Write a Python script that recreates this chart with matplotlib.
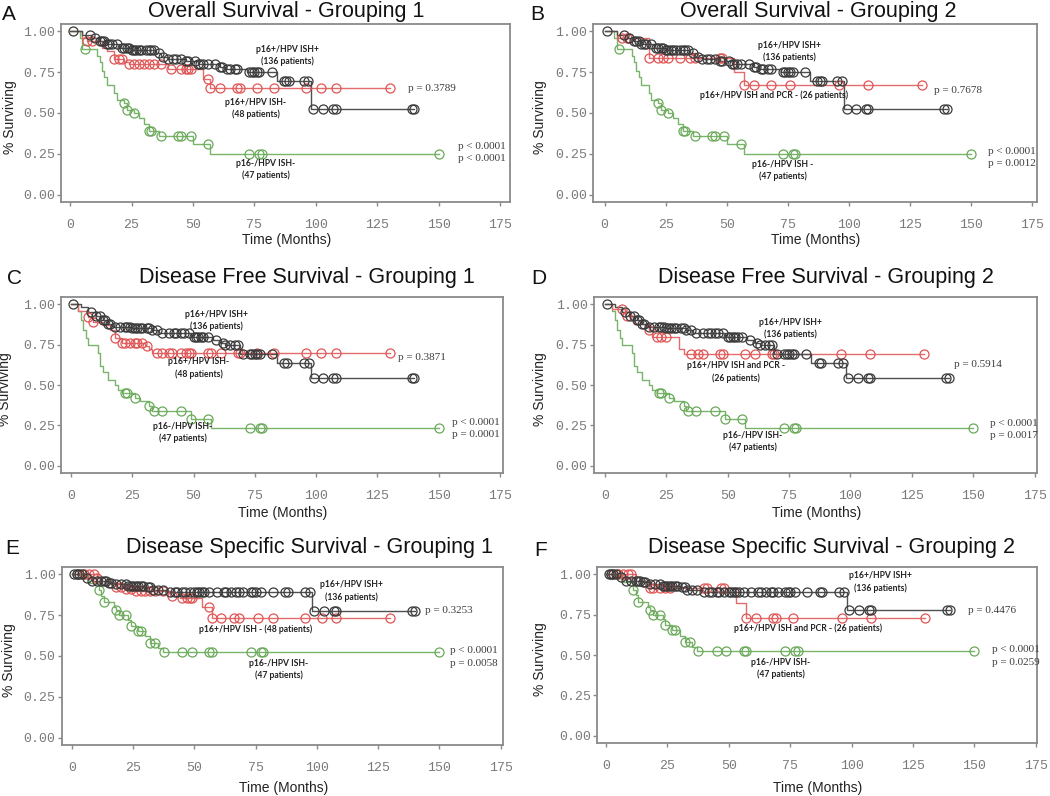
import numpy as np
import matplotlib
matplotlib.use("Agg")
import matplotlib.pyplot as plt

W, H = 1050, 796

# ---------------------------------------------------------------------------
# Kaplan-Meier steps: event times, survival after step,
# censor times and the last follow-up time.
# ---------------------------------------------------------------------------
OS_BLACK_T = [0, 5, 9, 12, 15, 20, 25, 35, 37, 40, 47, 52, 61, 63, 72, 84, 98]
OS_BLACK_S = [1.0, 0.98, 0.96, 0.94, 0.92, 0.90, 0.885, 0.87, 0.845, 0.83, 0.82,
              0.80, 0.78, 0.77, 0.75, 0.695, 0.525]
OS_BLACK_C = [1, 8, 10, 12, 13, 14, 15, 16, 17, 19, 21, 22, 23, 24, 25, 26, 27, 28,
              29, 31, 32, 33, 34, 36, 38, 40, 42, 43, 45, 47, 48, 51, 52, 53, 54, 56,
              59, 61, 62, 64, 65, 67, 68, 73, 74, 75, 76, 77, 82, 87, 88, 89, 95, 97,
              99, 103, 107, 108, 139, 140]

OS_RED1_T = [0, 5, 7, 13, 15, 18, 22, 24, 40, 54, 57]
OS_RED1_S = [1.0, 0.96, 0.94, 0.90, 0.88, 0.83, 0.81, 0.80, 0.77, 0.71, 0.655]
OS_RED1_C = [7, 9, 18, 20, 21, 24, 26, 28, 30, 32, 34, 37, 41, 45, 47, 48, 49, 56,
             57, 61, 68, 69, 76, 83, 96, 102, 108, 130]

OS_RED2_T = [0, 5, 18, 53, 57]
OS_RED2_S = [1.0, 0.96, 0.835, 0.75, 0.67]
OS_RED2_C = [7, 9, 10, 18, 22, 24, 26, 31, 35, 37, 47, 48, 57, 61, 68, 76, 96, 108, 130]

OS_GREEN_T = [0, 4, 5, 11, 12, 13, 14, 15, 18, 19, 22, 23, 26, 28, 30, 32, 36, 50, 57]
OS_GREEN_S = [1.0, 0.96, 0.89, 0.85, 0.81, 0.76, 0.72, 0.67, 0.62, 0.58, 0.56, 0.52,
              0.50, 0.47, 0.43, 0.39, 0.36, 0.31, 0.25]
OS_GREEN_C = [6, 22, 23, 26, 32, 33, 37, 44, 45, 49, 56, 73, 77, 78, 150]

DFS_BLACK_T = [0, 4, 7, 10, 13, 15, 17, 25, 33, 36, 49, 58, 61, 63, 69, 84, 98]
DFS_BLACK_S = [1.0, 0.98, 0.95, 0.93, 0.90, 0.88, 0.86, 0.85, 0.84, 0.82, 0.80,
               0.78, 0.76, 0.75, 0.69, 0.635, 0.545]
DFS_BLACK_C = [1, 8, 10, 12, 13, 14, 15, 16, 18, 20, 22, 23, 24, 25, 26, 27, 28, 29,
               31, 32, 33, 35, 37, 40, 42, 43, 45, 46, 48, 50, 51, 52, 53, 54, 56, 59,
               62, 63, 65, 67, 68, 70, 73, 74, 75, 76, 77, 82, 87, 88, 95, 97, 99, 103,
               107, 108, 139, 140]

DFS_RED1_T = [0, 3, 7, 9, 13, 16, 18, 21, 30, 32, 33]
DFS_RED1_S = [1.0, 0.96, 0.92, 0.89, 0.87, 0.84, 0.79, 0.76, 0.74, 0.72, 0.70]
DFS_RED1_C = [7, 9, 18, 21, 22, 24, 26, 27, 29, 31, 35, 37, 40, 41, 45, 47, 48, 49,
              56, 57, 61, 68, 69, 76, 83, 96, 102, 108, 130]

DFS_RED2_T = [0, 3, 8, 12, 18, 19, 30, 32]
DFS_RED2_S = [1.0, 0.97, 0.93, 0.88, 0.84, 0.80, 0.72, 0.69]
DFS_RED2_C = [7, 9, 18, 21, 23, 25, 35, 38, 40, 47, 48, 57, 61, 68, 69, 96, 108, 130]

DFS_GREEN_T = [0, 3, 4, 5, 6, 7, 11, 12, 13, 15, 18, 19, 21, 26, 28, 32, 33, 49, 57]
DFS_GREEN_S = [1.0, 0.96, 0.90, 0.84, 0.79, 0.75, 0.70, 0.62, 0.58, 0.53, 0.50, 0.47,
               0.45, 0.42, 0.40, 0.37, 0.34, 0.29, 0.232]
DFS_GREEN_C = [22, 23, 26, 32, 34, 37, 45, 49, 56, 73, 77, 78, 150]

DSS_BLACK_T = [0, 5, 8, 15, 18, 23, 30, 33, 39, 98]
DSS_BLACK_S = [1.0, 0.98, 0.96, 0.95, 0.94, 0.93, 0.92, 0.905, 0.89, 0.776]
DSS_BLACK_C = [1, 2, 3, 4, 6, 8, 10, 12, 13, 14, 15, 16, 18, 20, 22, 23, 24, 25, 26,
               27, 28, 29, 31, 32, 33, 35, 37, 40, 42, 43, 45, 46, 48, 50, 51, 52, 53,
               54, 56, 59, 62, 63, 65, 67, 68, 70, 73, 74, 75, 77, 82, 87, 88, 95, 97,
               99, 103, 107, 108, 139, 140]

DSS_RED1_T = [0, 10, 12, 16, 18, 22, 25, 40, 44, 53, 57]
DSS_RED1_S = [1.0, 0.98, 0.96, 0.94, 0.925, 0.91, 0.90, 0.87, 0.855, 0.80, 0.73]
DSS_RED1_C = [3, 5, 7, 9, 10, 18, 20, 22, 24, 26, 28, 30, 32, 34, 37, 41, 45, 47, 48,
              49, 56, 57, 61, 66, 68, 76, 82, 95, 102, 108, 130]

DSS_RED2_T = [0, 12, 18, 53, 57]
DSS_RED2_S = [1.0, 0.96, 0.915, 0.825, 0.73]
DSS_RED2_C = [3, 5, 7, 9, 10, 18, 19, 22, 24, 26, 40, 41, 47, 48, 57, 61, 68, 69, 76,
              96, 108, 130]

DSS_GREEN_T = [0, 6, 7, 11, 12, 13, 17, 18, 19, 23, 24, 27, 30, 32, 35, 37]
DSS_GREEN_S = [1.0, 0.97, 0.95, 0.905, 0.87, 0.83, 0.80, 0.78, 0.75, 0.72, 0.685,
               0.653, 0.62, 0.578, 0.55, 0.527]
DSS_GREEN_C = [2, 5, 11, 13, 18, 19, 22, 24, 27, 28, 32, 34, 37.5, 45, 49, 56, 57, 73,
               77, 78, 150]

END_BLACK, END_RED, END_GREEN = 140, 130, 150

LBL_POS = "p16+/HPV ISH+\n(136 patients)"
LBL_NEG = "p16-/HPV ISH-\n(47 patients)"

# panel specs: letter, title, curves, labels, p-values, geometry (pixels)
PANELS = [
    dict(letter="A", title="Overall Survival - Grouping 1",
         curves=[(OS_GREEN_T, OS_GREEN_S, OS_GREEN_C, END_GREEN, "g"),
                 (OS_RED1_T, OS_RED1_S, OS_RED1_C, END_RED, "r"),
                 (OS_BLACK_T, OS_BLACK_S, OS_BLACK_C, END_BLACK, "k")],
         labels=[(88.6, 0.85, LBL_POS), (75.5, 0.53, "p16+/HPV ISH-\n(48 patients)"),
                 (79.7, 0.155, LBL_NEG)],
         pvals=[(137.4, 0.648, "p = 0.3789"), (158, 0.256, "p < 0.0001\np < 0.0001")],
         box=(61, 24, 510, 202), xlim=(-3.7, 179),
         letter_xy=(9, 14), title_xy=(286, 12), ylab_x=10, xlab_y=240),
    dict(letter="B", title="Overall Survival - Grouping 2",
         curves=[(OS_GREEN_T, OS_GREEN_S, OS_GREEN_C, END_GREEN, "g"),
                 (OS_RED2_T, OS_RED2_S, OS_RED2_C, END_RED, "r"),
                 (OS_BLACK_T, OS_BLACK_S, OS_BLACK_C, END_BLACK, "k")],
         labels=[(75.8, 0.875, LBL_POS),
                 (69.4, 0.61, "p16+/HPV ISH and PCR - (26 patients)"),
                 (73, 0.148, "p16-/HPV ISH -\n(47 patients)")],
         pvals=[(135, 0.64, "p = 0.7678"), (156.8, 0.23, "p < 0.0001\np = 0.0012")],
         box=(593, 24, 1037, 202), xlim=(-4.8, 177),
         letter_xy=(537, 14), title_xy=(818, 12), ylab_x=540, xlab_y=240),
    dict(letter="C", title="Disease Free Survival - Grouping 1",
         curves=[(DFS_GREEN_T, DFS_GREEN_S, DFS_GREEN_C, END_GREEN, "g"),
                 (DFS_RED1_T, DFS_RED1_S, DFS_RED1_C, END_RED, "r"),
                 (DFS_BLACK_T, DFS_BLACK_S, DFS_BLACK_C, END_BLACK, "k")],
         labels=[(59.4, 0.90, LBL_POS), (52.2, 0.605, "p16+/HPV ISH-\n(48 patients)"),
                 (45.5, 0.204, LBL_NEG)],
         pvals=[(133.4, 0.67, "p = 0.3871"), (155.6, 0.228, "p < 0.0001\np = 0.0001")],
         box=(61, 297, 503, 473), xlim=(-4.1, 176.3),
         letter_xy=(14, 278), title_xy=(307, 277), ylab_x=5, xlab_y=513),
    dict(letter="D", title="Disease Free Survival - Grouping 2",
         curves=[(DFS_GREEN_T, DFS_GREEN_S, DFS_GREEN_C, END_GREEN, "g"),
                 (DFS_RED2_T, DFS_RED2_S, DFS_RED2_C, END_RED, "r"),
                 (DFS_BLACK_T, DFS_BLACK_S, DFS_BLACK_C, END_BLACK, "k")],
         labels=[(75.4, 0.85, LBL_POS),
                 (53.3, 0.58, "p16+/HPV ISH and PCR -\n(26 patients)"),
                 (60.2, 0.148, LBL_NEG)],
         pvals=[(142, 0.63, "p = 0.5914"), (156.7, 0.222, "p < 0.0001\np = 0.0017")],
         box=(594, 297, 1037, 473), xlim=(-4.5, 176),
         letter_xy=(539, 278), title_xy=(826, 277), ylab_x=540, xlab_y=513),
    dict(letter="E", title="Disease Specific Survival - Grouping 1",
         curves=[(DSS_GREEN_T, DSS_GREEN_S, DSS_GREEN_C, END_GREEN, "g"),
                 (DSS_RED1_T, DSS_RED1_S, DSS_RED1_C, END_RED, "r"),
                 (DSS_BLACK_T, DSS_BLACK_S, DSS_BLACK_C, END_BLACK, "k")],
         labels=[(114.2, 0.898, LBL_POS), (75, 0.663, "p16+/HPV ISH - (48 patients)"),
                 (84.5, 0.415, LBL_NEG)],
         pvals=[(144.3, 0.776, "p = 0.3253"), (154.5, 0.494, "p < 0.0001\np = 0.0058")],
         box=(62, 567, 503, 745), xlim=(-4.1, 176),
         letter_xy=(12, 548), title_xy=(309, 548), ylab_x=9, xlab_y=788),
    dict(letter="F", title="Disease Specific Survival - Grouping 2",
         curves=[(DSS_GREEN_T, DSS_GREEN_S, DSS_GREEN_C, END_GREEN, "g"),
                 (DSS_RED2_T, DSS_RED2_S, DSS_RED2_C, END_RED, "r"),
                 (DSS_BLACK_T, DSS_BLACK_S, DSS_BLACK_C, END_BLACK, "k")],
         labels=[(111.7, 0.952, LBL_POS),
                 (82.4, 0.663, "p16+/HPV ISH and PCR - (26 patients)"),
                 (71.2, 0.415, LBL_NEG)],
         pvals=[(147.3, 0.776, "p = 0.4476"), (157.2, 0.494, "p < 0.0001\np = 0.0259")],
         box=(597, 567, 1037, 743), xlim=(-3.7, 175.5),
         letter_xy=(541, 551), title_xy=(831, 548), ylab_x=540, xlab_y=788),
]

COLORS = {"k": ("#505050", "#3a3a3a"), "r": ("#e36b6b", "#e05555"),
          "g": ("#79b46a", "#6aa95a")}

SANS = "Liberation Sans"
MONO = "Liberation Mono"
SERIF = "Liberation Serif"
FRAME = "#8a8a8a"


def fx(x, y):
    return x / W, 1 - y / H


fig = plt.figure(figsize=(W / 100, H / 100), dpi=100)

for p in PANELS:
    l, t, r, b = p["box"]
    ax = fig.add_axes([l / W, 1 - b / H, (r - l) / W, (b - t) / H])

    for times, surv, cens, end, key in p["curves"]:
        lc, mc = COLORS[key]
        ax.step(list(times) + [end], list(surv) + [surv[-1]], where="post",
                color=lc, lw=1.0, zorder=2)
        idx = np.searchsorted(times, cens, side="right") - 1
        cy = np.asarray(surv)[idx]
        ax.plot(cens, cy, ls="none", marker="o", ms=6.5, mfc="none", mec=mc,
                mew=0.9, zorder=3)

    for x, y, s in p["labels"]:
        ax.text(x, y, s, ha="center", va="center", fontsize=6.2,
                fontweight="bold", family="Lato", color="#222222",
                linespacing=1.35)
    for x, y, s in p["pvals"]:
        ax.text(x, y, s, ha="left", va="center", fontsize=8, family=SERIF,
                color="#3c3c3c", linespacing=1.45)

    ax.set_xlim(*p["xlim"])
    ax.set_ylim(-0.045, 1.045)
    ax.set_xticks(np.arange(0, 176, 25))
    ax.set_yticks([0, 0.25, 0.5, 0.75, 1.0])
    ax.set_yticklabels([f"{v:.2f}" for v in [0, 0.25, 0.5, 0.75, 1.0]])
    for lab in ax.get_xticklabels() + ax.get_yticklabels():
        lab.set_family(MONO)
    ax.tick_params(axis="both", labelsize=9.5, labelcolor="#7a7a7a",
                   color=FRAME, length=3, width=1.0)
    ax.tick_params(axis="x", pad=9)
    ax.tick_params(axis="y", pad=1.5)
    for sp in ax.spines.values():
        sp.set_color(FRAME)
        sp.set_linewidth(1.3)

    # panel letter, title and axis labels in figure pixels
    fig.text(*fx(*p["letter_xy"]), p["letter"], ha="center", va="center",
             fontsize=15, family=SANS, color="#111111")
    fig.text(*fx(*p["title_xy"]), p["title"], ha="center", va="center",
             fontsize=15.5, family=SANS, color="#111111")
    fig.text(*fx(p["ylab_x"], (t + b) / 2 + 4), "% Surviving", ha="center",
             va="center", rotation=90, fontsize=10, family=SANS,
             color="#222222")
    fig.text(*fx((l + r) / 2 + 1, p["xlab_y"]), "Time (Months)", ha="center",
             va="center", fontsize=10, family=SANS, color="#222222")

fig.savefig("out.png", dpi=100)
